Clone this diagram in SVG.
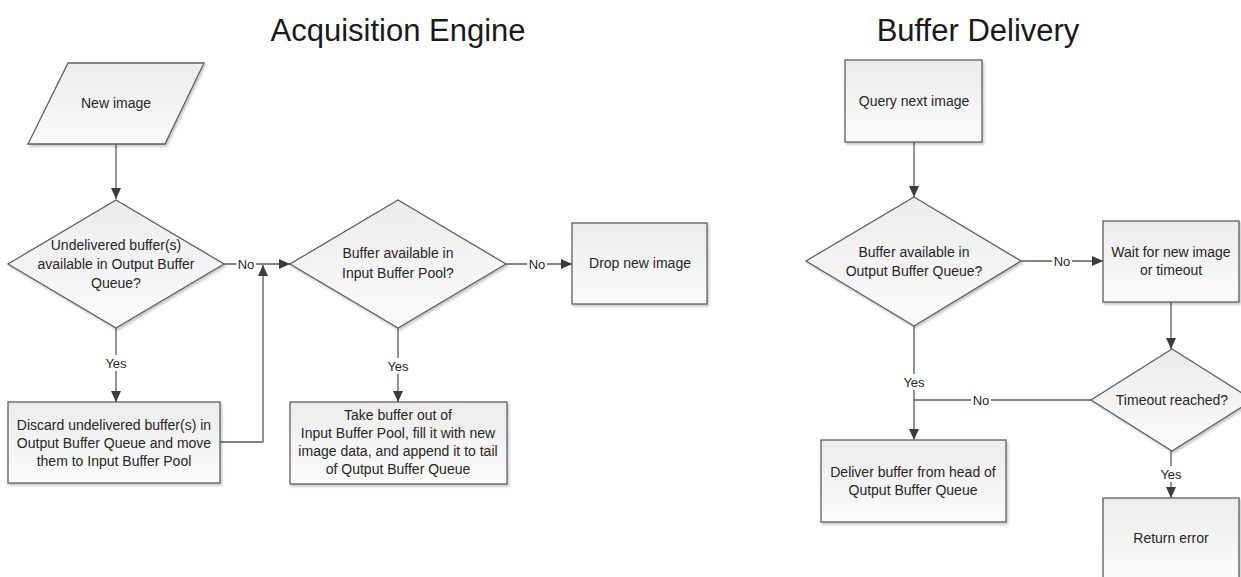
<svg xmlns="http://www.w3.org/2000/svg" width="1241" height="577" viewBox="0 0 1241 577">
<style>
  .shape { fill: url(#g); stroke: #5f5f5f; stroke-width: 1.3; filter: url(#sh); }
  .t { font-family: "Liberation Sans", Arial, sans-serif; font-size: 14px; fill: #262626; text-anchor: middle; dominant-baseline: central; }
  .title { font-family: "Liberation Sans", Arial, sans-serif; font-size: 31px; fill: #1a1a1a; text-anchor: middle; }
  .c { fill: none; stroke: #5a5a5a; stroke-width: 1.3; marker-end: url(#ah); }
  .cn { fill: none; stroke: #5a5a5a; stroke-width: 1.3; }
  .lbg { fill: #ffffff; }
  .lbl { font-family: "Liberation Sans", Arial, sans-serif; font-size: 13px; fill: #262626; text-anchor: middle; dominant-baseline: central; }
</style>
<defs>
  <linearGradient id="g" x1="0" y1="0" x2="0" y2="1">
    <stop offset="0" stop-color="#ececec"/>
    <stop offset="1" stop-color="#fbfbfb"/>
  </linearGradient>
  <filter id="sh" x="-10%" y="-10%" width="125%" height="130%">
    <feDropShadow dx="1.5" dy="2" stdDeviation="1.2" flood-color="#000" flood-opacity="0.22"/>
  </filter>
  <marker id="ah" markerUnits="userSpaceOnUse" markerWidth="12" markerHeight="10" refX="11" refY="5" orient="auto">
    <path d="M0,0 L11,5 L0,10 z" fill="#3c3c3c"/>
  </marker>
</defs>
<rect width="1241" height="577" fill="#ffffff"/>

<text class="title" x="398" y="41">Acquisition Engine</text>
<text class="title" x="978" y="41">Buffer Delivery</text>

<g id="connectors">
  <path class="c" d="M116 144 V199"/>
  <path class="c" d="M224 264 H290"/>
  <path class="c" d="M116 328 V402"/>
  <path class="c" d="M220 442 H263 V265"/>
  <path class="c" d="M506 264 H572"/>
  <path class="c" d="M398 328 V402"/>
  <path class="c" d="M914 142 V197"/>
  <path class="c" d="M1021 261 H1103"/>
  <path class="c" d="M1171 302 V349"/>
  <path class="c" d="M914 326 V440"/>
  <path class="cn" d="M1091 400 H914"/>
  <path class="c" d="M1171 451 V498"/>
  <rect class="lbg" x="236" y="256" width="20" height="16"/>
  <text class="lbl" x="246" y="264">No</text>
  <rect class="lbg" x="101" y="355" width="30" height="16"/>
  <text class="lbl" x="116" y="363">Yes</text>
  <rect class="lbg" x="527" y="256" width="20" height="16"/>
  <text class="lbl" x="537" y="264">No</text>
  <rect class="lbg" x="383" y="358" width="30" height="16"/>
  <text class="lbl" x="398" y="366">Yes</text>
  <rect class="lbg" x="1052" y="253" width="20" height="16"/>
  <text class="lbl" x="1062" y="261">No</text>
  <rect class="lbg" x="899" y="374" width="30" height="16"/>
  <text class="lbl" x="914" y="382">Yes</text>
  <rect class="lbg" x="971" y="392" width="20" height="16"/>
  <text class="lbl" x="981" y="400">No</text>
  <rect class="lbg" x="1156" y="466" width="30" height="16"/>
  <text class="lbl" x="1171" y="474">Yes</text>
</g>

<g id="new-image">
  <path class="shape" d="M68 63 H204 L165 144 H28 Z"/>
  <text class="t" x="116" y="103">New image</text>
</g>
<g id="undelivered-decision">
  <path class="shape" d="M116 200 L224 264 L116 328 L8 264 Z"/>
  <text class="t" x="116" y="245">Undelivered buffer(s)</text>
  <text class="t" x="116" y="264">available in Output Buffer</text>
  <text class="t" x="116" y="283">Queue?</text>
</g>
<g id="input-pool-decision">
  <path class="shape" d="M398 200 L506 264 L398 328 L290 264 Z"/>
  <text class="t" x="398" y="253">Buffer available in</text>
  <text class="t" x="398" y="273">Input Buffer Pool?</text>
</g>
<g id="drop-image">
  <rect class="shape" x="572" y="223" width="135" height="81"/>
  <text class="t" x="640" y="263">Drop new image</text>
</g>
<g id="discard">
  <rect class="shape" x="8" y="402" width="212" height="81"/>
  <text class="t" x="114" y="425">Discard undelivered buffer(s) in</text>
  <text class="t" x="114" y="443">Output Buffer Queue and move</text>
  <text class="t" x="114" y="461">them to Input Buffer Pool</text>
</g>
<g id="take-buffer">
  <rect class="shape" x="290" y="402" width="217" height="82"/>
  <text class="t" x="398" y="415">Take buffer out of</text>
  <text class="t" x="398" y="433">Input Buffer Pool, fill it with new</text>
  <text class="t" x="398" y="451">image data, and append it to tail</text>
  <text class="t" x="398" y="469">of Qutput Buffer Queue</text>
</g>

<g id="query-next">
  <rect class="shape" x="845" y="60" width="137" height="82"/>
  <text class="t" x="914" y="101">Query next image</text>
</g>
<g id="output-queue-decision">
  <path class="shape" d="M914 197 L1021 261 L914 326 L806 261 Z"/>
  <text class="t" x="914" y="252">Buffer available in</text>
  <text class="t" x="914" y="271">Output Buffer Queue?</text>
</g>
<g id="wait">
  <rect class="shape" x="1103" y="221" width="136" height="81"/>
  <text class="t" x="1171" y="252">Wait for new image</text>
  <text class="t" x="1171" y="270">or timeout</text>
</g>
<g id="timeout-decision">
  <path class="shape" d="M1172 349 L1253 400 L1172 451 L1091 400 Z"/>
  <text class="t" x="1172" y="400">Timeout reached?</text>
</g>
<g id="deliver">
  <rect class="shape" x="821" y="440" width="185" height="82"/>
  <text class="t" x="913" y="472">Deliver buffer from head of</text>
  <text class="t" x="913" y="490">Qutput Buffer Queue</text>
</g>
<g id="return-error">
  <rect class="shape" x="1103" y="498" width="136" height="81"/>
  <text class="t" x="1171" y="538">Return error</text>
</g>
</svg>
